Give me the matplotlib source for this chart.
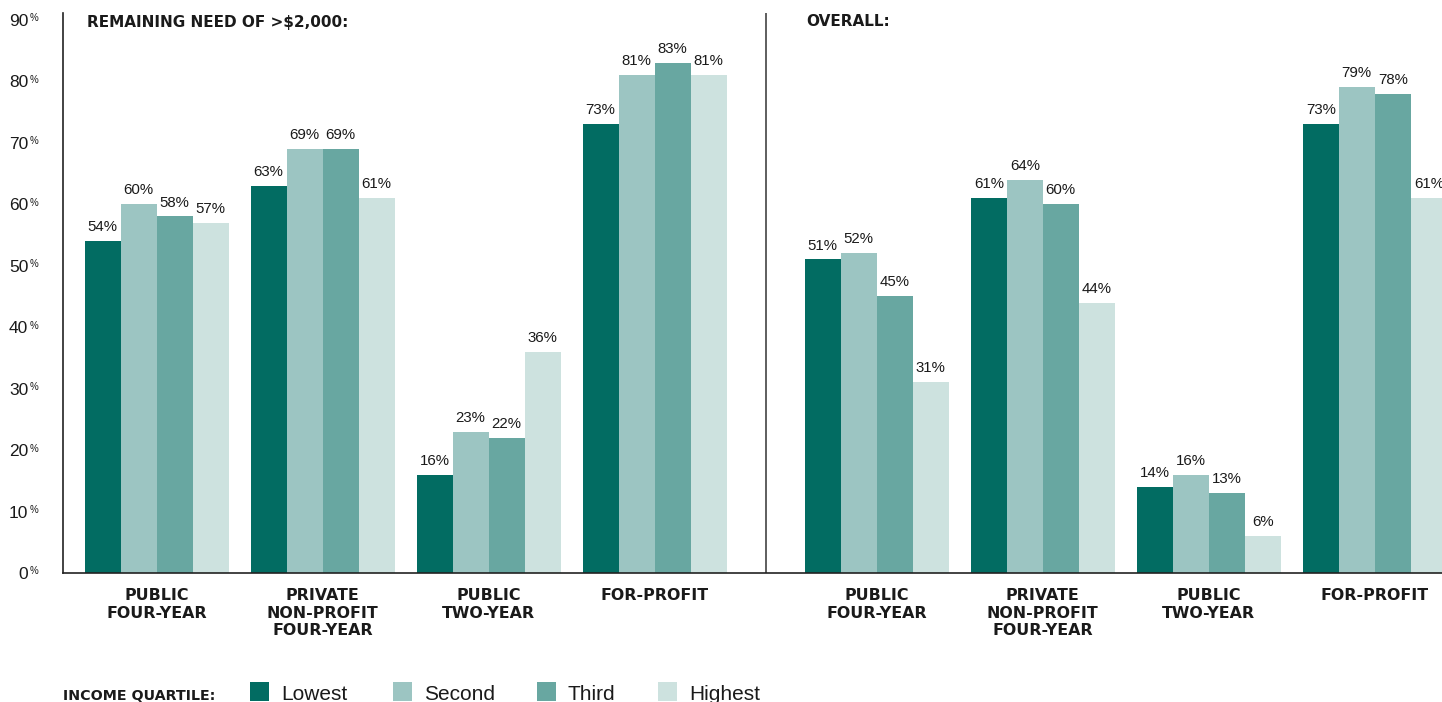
import numpy as np
import matplotlib
matplotlib.use("Agg")
import matplotlib.pyplot as plt
from matplotlib.patches import Rectangle
from matplotlib.transforms import blended_transform_factory, offset_copy

plt.rcParams['font.family'] = ['Liberation Sans', 'DejaVu Sans']
BOLD = ['DejaVu Sans']

# sector categories (same for both panels)
sectors = ["PUBLIC\nFOUR-YEAR", "PRIVATE\nNON-PROFIT\nFOUR-YEAR", "PUBLIC\nTWO-YEAR", "FOR-PROFIT"]
quartiles = ["Lowest", "Second", "Third", "Highest"]
colors = ["#026c62", "#9cc5c2", "#68a7a1", "#cde2df"]

# remaining need of more than $2,000, by income quartile
need_lowest = [54, 63, 16, 73]
need_second = [60, 69, 23, 81]
need_third = [58, 69, 22, 83]
need_highest = [57, 61, 36, 81]

# overall, by income quartile
all_lowest = [51, 61, 14, 73]
all_second = [52, 64, 16, 79]
all_third = [45, 60, 13, 78]
all_highest = [31, 44, 6, 61]

need = [need_lowest, need_second, need_third, need_highest]
overall = [all_lowest, all_second, all_third, all_highest]

yticks = list(range(0, 100, 10))

W, H = 1442, 702
fig = plt.figure(figsize=(W / 100, H / 100), dpi=100)
ax = fig.add_axes([63 / W, 1 - 573 / H, 1 - 63 / W, 560 / H])

unit = 166.0  # pixels between group centres
gap = 720.2 / unit - 3
left_x = np.arange(4)
right_x = np.arange(4) + 3 + gap
width = 36 / unit
offsets = (np.arange(4) - 1.5) * width
ink = "#1a1a1a"

for panel_x, panel in [(left_x, need), (right_x, overall)]:
    for q in range(4):
        xs = panel_x + offsets[q]
        ax.bar(xs, panel[q], width=width, color=colors[q], align='center')
        for x, v in zip(xs, panel[q]):
            ax.annotate(f"{v}%", (x, v), xytext=(0, 5), textcoords='offset points',
                        ha='center', va='bottom', fontsize=10.8, color=ink,
                        annotation_clip=False)

# divider between the two panels
ax.axvline((left_x[-1] + right_x[0]) / 2, color="#333333", lw=1.1)

ax.set_xlim(-93.6 / unit, (W - 156.6) / unit)
ax.set_ylim(0, 91.1)
ax.set_yticks(yticks)
ax.set_yticklabels([str(t) for t in yticks], fontsize=12.5, color=ink)
ax.tick_params(axis='y', length=0, pad=25)

# small raised percent sign after each y tick value
ytrans = blended_transform_factory(ax.transAxes, ax.transData)
pct_trans = offset_copy(ytrans, fig=fig, x=-33.5 / 100 * 72, y=6.5 / 100 * 72, units='points')
for t in yticks:
    ax.text(0, t, "%", transform=pct_trans, fontsize=7, color=ink,
            ha='left', va='top', clip_on=False)

ax.set_xticks(np.concatenate([left_x, right_x]))
ax.set_xticklabels(sectors * 2, fontsize=11.4, fontweight='bold', family=BOLD,
                   color=ink, linespacing=1.2)
ax.tick_params(axis='x', length=0, pad=11)

for s in ['top', 'right']:
    ax.spines[s].set_visible(False)
ax.spines['left'].set_color("#222222")
ax.spines['bottom'].set_color("#222222")
ax.spines['left'].set_linewidth(1.2)
ax.spines['bottom'].set_linewidth(1.2)

# panel titles
fig.text(87 / W, 1 - 22 / H, "REMAINING NEED OF >$2,000:", fontsize=11, fontweight='bold',
         family=BOLD, color=ink, va='center', ha='left')
fig.text(806 / W, 1 - 22 / H, "OVERALL:", fontsize=11, fontweight='bold',
         family=BOLD, color=ink, va='center', ha='left')

# legend row
fig.text(63 / W, 2 / H, "INCOME QUARTILE:", fontsize=10.3, fontweight='bold', family=BOLD,
         color=ink, va='baseline', ha='left')
legend_x = [250, 393, 537, 658]
for lx, name, c in zip(legend_x, quartiles, colors):
    fig.patches.append(Rectangle((lx / W, 1 / H), 19 / W, 19 / H, transform=fig.transFigure,
                                 facecolor=c, edgecolor='none'))
    fig.text((lx + 31) / W, 1.5 / H, name, fontsize=15, color=ink, va='baseline', ha='left')

fig.savefig("out.png", dpi=100)
